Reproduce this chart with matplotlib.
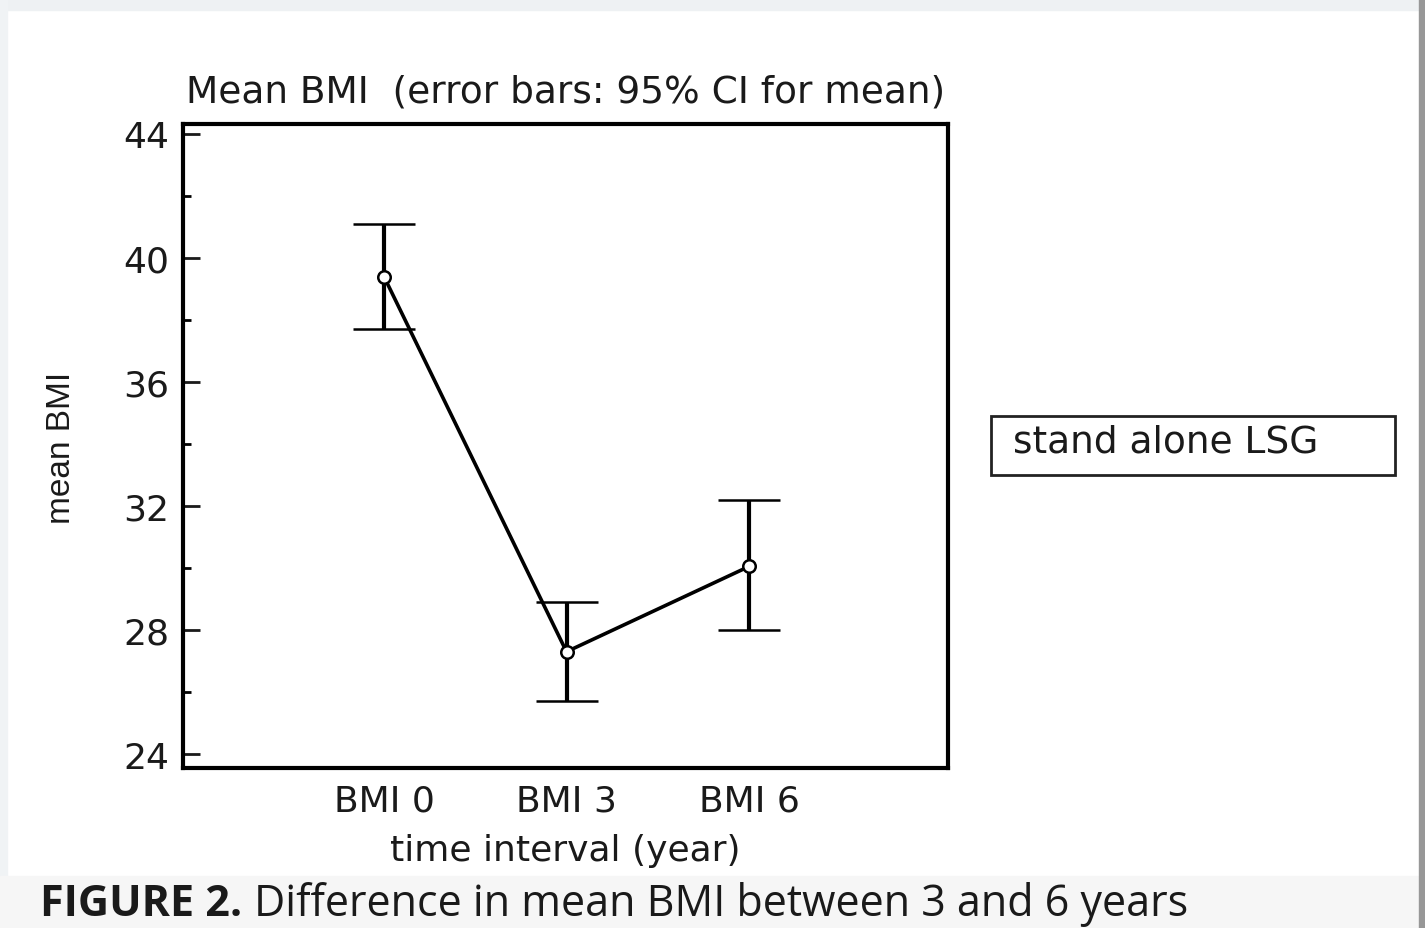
import matplotlib.pyplot as plt
from matplotlib.patches import Rectangle

# data
labels = ['BMI 0', 'BMI 3', 'BMI 6']
mean_bmi = [39.4, 27.3, 30.05]
ci_upper = [41.1, 28.9, 32.2]
ci_lower = [37.7, 25.7, 28.0]
y_ticks = [24, 28, 32, 36, 40, 44]
y_minor = [26, 30, 34, 38, 42]

W, H = 1425, 929
TXT = '#1a1a1a'
fig = plt.figure(figsize=(W / 100, H / 100), dpi=100)
fig.patch.set_facecolor('white')
plt.rcParams['font.family'] = ['DejaVu Sans']

# page decorations (scan border, caption strip)
fig.patches.append(Rectangle((0, 1 - 11 / H), 1, 11 / H, transform=fig.transFigure,
                             color='#eef1f3', zorder=0))
fig.patches.append(Rectangle((0, 0), 7 / W, 1, transform=fig.transFigure,
                             color='#f0f3f5', zorder=0))
fig.patches.append(Rectangle((0, 0), 1, 52 / H, transform=fig.transFigure,
                             color='#f6f6f6', zorder=0))
fig.patches.append(Rectangle((1 - 6 / W, 0), 6 / W, 1, transform=fig.transFigure,
                             color='#979797', zorder=0))

ax = fig.add_axes([183 / W, 1 - 769 / H, (948 - 183) / W, (769 - 125) / H])
x = list(range(len(labels)))
yerr = [[m - l for m, l in zip(mean_bmi, ci_lower)],
        [u - m for m, u in zip(mean_bmi, ci_upper)]]
ax.errorbar(x, mean_bmi, yerr=yerr, color='black', lw=2.6, elinewidth=3.0,
            capsize=22, capthick=2.4, marker='o', ms=9, mfc='white', mec='black',
            mew=1.8, zorder=3)

ax.set_xlim(-1.101, 3.090)
ax.set_ylim(23.55, 44.32)
ax.set_xticks(x)
ax.set_xticklabels(labels)
ax.set_yticks(y_ticks)
ax.set_yticks(y_minor, minor=True)
ax.tick_params(axis='x', length=0, labelsize=26, pad=11, colors=TXT)
ax.tick_params(axis='y', which='major', direction='in', length=12, width=2,
               labelsize=26, pad=10, colors=TXT)
ax.tick_params(axis='y', which='minor', direction='in', length=6, width=2)
for s in ax.spines.values():
    s.set_linewidth(3)

ax.set_xlabel('time interval (year)', fontsize=26, labelpad=11, color=TXT)
fig.text(62 / W, 1 - 448 / H, 'mean BMI', rotation=90, fontsize=24,
         family='Liberation Sans', ha='center', va='center', color=TXT)
fig.text(566 / W, 1 - 93 / H, 'Mean BMI  (error bars: 95% CI for mean)', fontsize=27,
         ha='center', va='center', color=TXT)

# legend-style box on the right
fig.patches.append(Rectangle((991 / W, 1 - 476 / H), (1395 - 991) / W, (476 - 417) / H,
                             transform=fig.transFigure, fill=False, ec='#222222', lw=2))
fig.text(1013 / W, 1 - 443 / H, 'stand alone LSG', fontsize=27, ha='left', va='center',
         color=TXT)

# caption
cap = fig.text(40 / W, 1 - 905 / H, 'FIGURE 2.', fontsize=31, fontweight='bold',
               family='Open Sans', ha='left', va='center', color=TXT)
fig.canvas.draw()
bb = cap.get_window_extent()
fig.text(bb.x1 / W + 12 / W, 1 - 905 / H, 'Difference in mean BMI between 3 and 6 years',
         fontsize=31, family='Open Sans', ha='left', va='center', color=TXT)

fig.savefig('out.png', dpi=100)
